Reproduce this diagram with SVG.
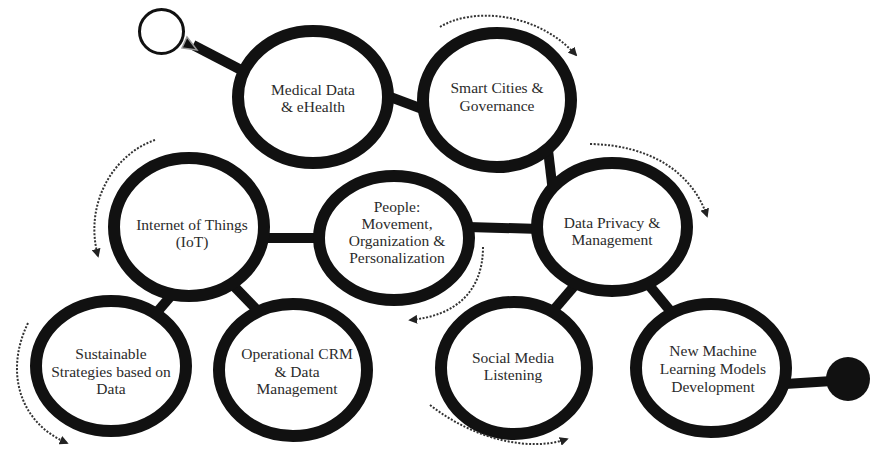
<svg xmlns="http://www.w3.org/2000/svg" width="870" height="453" viewBox="0 0 870 453">
  <style>
    .ring { fill: #fff; stroke: #111; stroke-width: 12; }
    .link { stroke: #111; stroke-width: 10; fill: none; }
    .flow { fill: none; stroke: #333; stroke-width: 2; stroke-dasharray: 2 1.6; }
    .lbl { font-family: 'Liberation Serif', 'DejaVu Serif', 'Times New Roman', serif; font-size: 15.5px; fill: #2b2b2b; text-anchor: middle; }
  </style>
  <defs>
    <marker id="dotArrow" viewBox="0 0 10 10" refX="8" refY="5" markerWidth="9" markerHeight="9" markerUnits="userSpaceOnUse" orient="auto">
      <path d="M0,0 L10,5 L0,10 Z" fill="#222"/>
    </marker>
  </defs>
  <rect width="870" height="453" fill="#fff"/>

  <!-- connectors -->
  <g id="connectors">
    <line class="link" x1="193" y1="45" x2="245" y2="72"/>
    <line class="link" x1="385" y1="95" x2="425" y2="110"/>
    <line class="link" x1="548" y1="150" x2="553" y2="192"/>
    <line class="link" x1="468" y1="227" x2="540" y2="229"/>
    <line class="link" x1="265" y1="238" x2="318" y2="238"/>
    <line class="link" x1="176" y1="290" x2="152" y2="318"/>
    <line class="link" x1="226" y1="278" x2="258" y2="311"/>
    <line class="link" x1="576" y1="284" x2="552" y2="312"/>
    <line class="link" x1="648" y1="284" x2="672" y2="313"/>
    <line class="link" x1="785" y1="384" x2="848" y2="380"/>
  </g>

  <!-- start and end terminals -->
  <g id="start">
    <circle cx="161.5" cy="31.5" r="22" fill="#fff" stroke="#111" stroke-width="3"/>
    <polygon points="182,48 187,37 197,50" fill="#111" stroke="#999" stroke-width="1.5"/>
  </g>
  <g id="end">
    <circle cx="848" cy="379" r="22" fill="#111"/>
  </g>

  <!-- nodes -->
  <g id="medical">
    <ellipse class="ring" cx="313" cy="97" rx="75" ry="66"/>
    <text class="lbl" x="313" y="95">Medical Data</text>
    <text class="lbl" x="313" y="112">&amp; eHealth</text>
  </g>
  <g id="smart-cities">
    <ellipse class="ring" cx="497" cy="100" rx="74" ry="67"/>
    <text class="lbl" x="497" y="93">Smart Cities &amp;</text>
    <text class="lbl" x="497" y="111">Governance</text>
  </g>
  <g id="data-privacy">
    <ellipse class="ring" cx="612" cy="227" rx="75" ry="64"/>
    <text class="lbl" x="612" y="228">Data Privacy &amp;</text>
    <text class="lbl" x="612" y="245">Management</text>
  </g>
  <g id="iot">
    <ellipse class="ring" cx="189" cy="227" rx="75" ry="69"/>
    <text class="lbl" x="192" y="230">Internet of Things</text>
    <text class="lbl" x="192" y="247">(IoT)</text>
  </g>
  <g id="people">
    <ellipse class="ring" cx="394" cy="238" rx="75" ry="62"/>
    <text class="lbl" x="397" y="212">People:</text>
    <text class="lbl" x="397" y="229">Movement,</text>
    <text class="lbl" x="397" y="246">Organization &amp;</text>
    <text class="lbl" x="397" y="263">Personalization</text>
  </g>
  <g id="sustainable">
    <ellipse class="ring" cx="111" cy="366" rx="75" ry="65"/>
    <text class="lbl" x="111" y="359">Sustainable</text>
    <text class="lbl" x="111" y="377">Strategies based on</text>
    <text class="lbl" x="111" y="394">Data</text>
  </g>
  <g id="operational-crm">
    <ellipse class="ring" cx="293" cy="370" rx="74" ry="66"/>
    <text class="lbl" x="297" y="359">Operational CRM</text>
    <text class="lbl" x="297" y="377">&amp; Data</text>
    <text class="lbl" x="297" y="394">Management</text>
  </g>
  <g id="social-media">
    <ellipse class="ring" cx="514" cy="368" rx="73" ry="66"/>
    <text class="lbl" x="513" y="363">Social Media</text>
    <text class="lbl" x="513" y="380">Listening</text>
  </g>
  <g id="new-ml">
    <ellipse class="ring" cx="711" cy="368" rx="75" ry="64"/>
    <text class="lbl" x="713" y="356">New Machine</text>
    <text class="lbl" x="713" y="374">Learning Models</text>
    <text class="lbl" x="713" y="392">Development</text>
  </g>

  <!-- dotted flow arrows -->
  <g id="flows">
    <path class="flow" d="M440,27 C470,8 535,10 576,55" marker-end="url(#dotArrow)"/>
    <path class="flow" d="M590,144 C650,145 692,172 707,216" marker-end="url(#dotArrow)"/>
    <path class="flow" d="M155,140 C112,155 84,205 98,256" marker-end="url(#dotArrow)"/>
    <path class="flow" d="M483,247 C483,292 455,316 410,320" marker-end="url(#dotArrow)"/>
    <path class="flow" d="M28,323 C5,370 18,422 67,443" marker-end="url(#dotArrow)"/>
    <path class="flow" d="M430,405 C475,440 530,452 567,439" marker-end="url(#dotArrow)"/>
  </g>
</svg>
